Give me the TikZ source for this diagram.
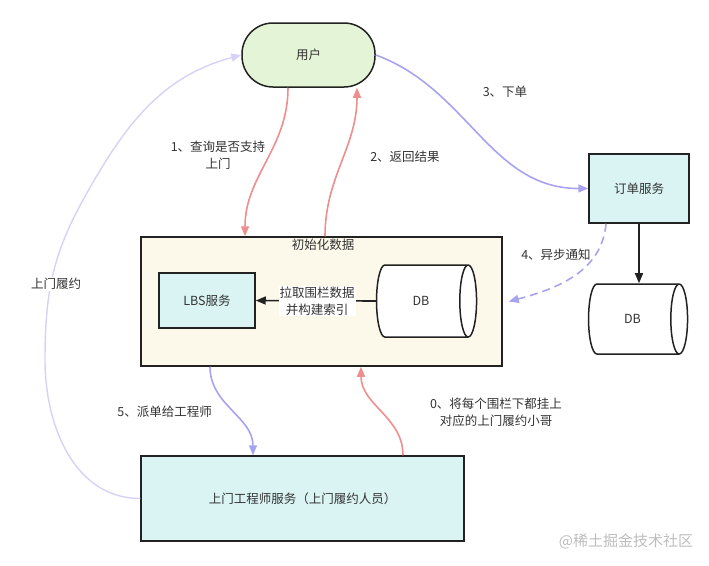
\documentclass[tikz,border=0pt]{standalone}
\usepackage{fontspec}
\setmainfont{Noto Sans CJK SC}
\usepackage{tikz}
\usepackage{xcolor}
\usetikzlibrary{arrows.meta,positioning,shapes.geometric}
\definecolor{lndark}{HTML}{222222}
\definecolor{txgrey}{HTML}{333333}
\definecolor{fluser}{HTML}{E4F4D6}
\definecolor{flinit}{HTML}{FCF9EA}
\definecolor{flcyan}{HTML}{DAF3F3}
\definecolor{arred}{HTML}{EF8E8E}
\definecolor{arblue}{HTML}{A8A3F0}
\definecolor{arpale}{HTML}{D6D2F7}
\definecolor{wmgrey}{HTML}{BDBDBD}

\begin{document}
\begin{tikzpicture}[x=1pt, y=1pt,
  lbl/.style={font=\fontsize{12.5}{17}\selectfont, text=txgrey, align=center, inner sep=1pt},
  boxcyan/.style={lbl, draw=lndark, fill=flcyan, line width=1.5pt},
  boxuser/.style={lbl, draw=lndark, fill=fluser, line width=1.5pt, rounded corners=31pt},
  boxinit/.style={draw=lndark, fill=flinit, line width=1.5pt},
  dbcyl/.style={lbl, cylinder, draw=lndark, fill=white, line width=1.5pt, aspect=1.5},
  arrred/.style={draw=arred, line width=1.6pt, -{Triangle[length=10pt,width=8pt]}},
  arrblue/.style={draw=arblue, line width=1.6pt, -{Triangle[length=10pt,width=8pt]}},
  arrpale/.style={draw=arpale, line width=1.4pt, -{Triangle[length=10pt,width=8pt]}},
  arrdark/.style={draw=lndark, line width=1.6pt, -{Triangle[length=10pt,width=8pt]}},
]
\useasboundingbox (0,0) rectangle (709,-565);

% boxes
\node[boxuser, minimum width=133, minimum height=64] (user) at (308.5,-55) {用户};
\node[boxinit, minimum width=361, minimum height=129] (init) at (321.5,-301.5) {};
\node[lbl] (initTitle) at (323,-245) {初始化数据};
\node[boxcyan, minimum width=96, minimum height=55] (lbs) at (207,-300.5) {LBS服务};
\node[dbcyl, minimum height=100, minimum width=72] (dbIn) at (421,-301) {DB};
\node[boxcyan, minimum width=100, minimum height=69] (order) at (639,-188.5) {订单服务};
\node[dbcyl, minimum height=99, minimum width=70] (dbOut) at (632.5,-319) {DB};
\node[boxcyan, minimum width=323, minimum height=85] (eng) at (302.5,-498.5) {上门工程师服务（上门履约人员）};

% connectors
\draw[arrdark] (dbIn.west) -- (lbs.east);
\node[lbl, fill=white] (pullLbl) at (317,-301) {拉取围栏数据\\并构建索引};
\draw[arrdark] (order.south) -- (order.south |- dbOut.north);
\draw[arrred] ([xshift=-20.5]user.south) to[out=-90,in=90] ([xshift=-76.5]init.north);
\draw[arrred] ([xshift=3.5]init.north) to[out=90,in=-90] ([xshift=48.5]user.south);
\draw[arrblue] (user.east) to[out=-20,in=180] (order.west);
\draw[arrblue, dash pattern=on 8pt off 5pt] ([xshift=-33]order.south) to[out=-95,in=15] ([xshift=6]init.east);
\draw[arrblue] ([xshift=-111.5]init.south) to[out=-90,in=90] ([xshift=-49.5]eng.north);
\draw[arrred] ([xshift=100.5]eng.north) to[out=90,in=-90] ([xshift=39.5]init.south);
\coordinate (loopA) at (45,-360);
\coordinate (loopB) at (83,-200);
\draw[arrpale] (eng.west) to[out=180,in=-90] (loopA) to[out=90,in=-119] (loopB) to[out=61,in=195] (user.west);

% step labels
\foreach \nm/\x/\y/\t in {
  one/218/-155/{1、查询是否支持\\上门},
  zero/496/-412/{0、将每个围栏下都挂上\\对应的上门履约小哥},
  two/405/-157/{2、返回结果},
  three/505/-92/{3、下单},
  four/556/-255/{4、异步通知},
  five/166/-412/{5、派单给工程师}
} {
  \node[lbl] (lab\nm) at (\x,\y) {\t};
}
\node[lbl, fill=white] (labvisit) at (56,-284) {上门履约};

\node[font=\fontsize{15}{17}\selectfont, text=wmgrey] (mark) at (626,-541) {@稀土掘金技术社区};
\end{tikzpicture}
\end{document}
